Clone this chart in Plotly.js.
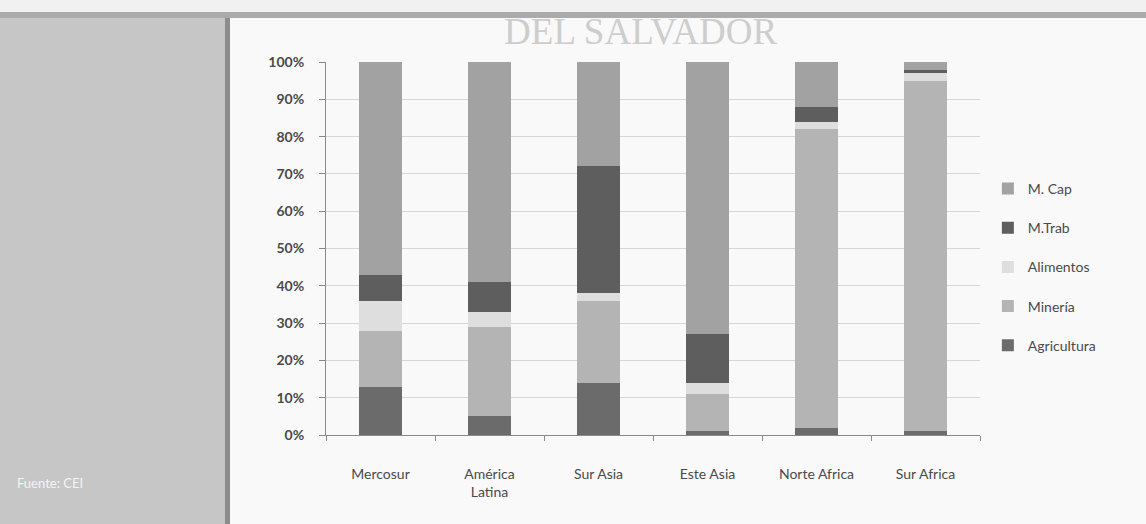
<!DOCTYPE html>
<html>
<head>
<meta charset="utf-8">
<script src="https://cdn.plot.ly/plotly-3.0.1.min.js"></script>
<style>html,body{margin:0;padding:0;background:#f9f9f9;}#chart{width:1146px;height:524px;}</style>
</head>
<body>
<div id="chart"></div>
<script>
// Data (shares, %)
const regions = ["Mercosur", "América<br>Latina", "Sur Asia", "Este Asia", "Norte Africa", "Sur Africa"];
const agricultura = [13, 5, 14, 1, 2, 1];
const mineria     = [15, 24, 22, 10, 80, 94];
const alimentos   = [8, 4, 2, 3, 2, 2];
const mTrab       = [7, 8, 34, 13, 4, 0.8];
const mCap        = [57, 59, 28, 73, 12, 2.2];
const yTicks = [0, 10, 20, 30, 40, 50, 60, 70, 80, 90, 100];
const yTickText = yTicks.map(v => v + "%");

const series = [
  {name: "Agricultura", y: agricultura, color: "#6b6b6b"},
  {name: "Minería",     y: mineria,     color: "#b4b4b4"},
  {name: "Alimentos",   y: alimentos,   color: "#dedede"},
  {name: "M.Trab",      y: mTrab,       color: "#5e5e5e"},
  {name: "M. Cap",      y: mCap,        color: "#a2a2a2"}
];

const traces = series.map((s, i) => ({
  type: "bar",
  x: regions,
  y: s.y,
  name: s.name,
  legendgroup: "g" + i,
  legendrank: 1000 - i * 100,
  marker: {color: s.color, line: {width: 0}},
  hoverinfo: "x+y+name"
}));

const font = "Lato, 'Open Sans', sans-serif";

const layout = {
  width: 1146, height: 524,
  margin: {l: 326, r: 166, t: 62, b: 89},
  paper_bgcolor: "#f9f9f9",
  plot_bgcolor: "#f9f9f9",
  barmode: "stack",
  bargap: 0.6,
  showlegend: true,
  font: {family: font, size: 14, color: "#4a4a4a"},
  title: {
    text: "DEL SALVADOR",
    xref: "container", yref: "container",
    x: 0.559, y: 0.94, xanchor: "center", yanchor: "middle",
    font: {family: "'Liberation Serif', 'DejaVu Serif', serif", size: 37, color: "#cdcdcd"}
  },
  xaxis: {
    type: "category",
    showgrid: false,
    showline: true, linecolor: "#8a8a8a", linewidth: 1,
    ticks: "outside", tickson: "boundaries", ticklen: 5, tickcolor: "#8a8a8a",
    tickfont: {family: font, size: 14, color: "#4a4a4a"},
    ticklabelstandoff: 26,
    fixedrange: true
  },
  yaxis: {
    range: [0, 100],
    tickvals: yTicks, ticktext: yTickText,
    showgrid: true, gridcolor: "#d6d6d6", gridwidth: 1,
    showline: true, linecolor: "#8a8a8a", linewidth: 1,
    ticks: "outside", ticklen: 6, tickcolor: "#8a8a8a",
    tickfont: {family: font, size: 14, color: "#4a4a4a", weight: "bold"},
    ticklabelstandoff: 12,
    zeroline: false,
    fixedrange: true
  },
  legend: {
    xref: "container", yref: "container",
    x: 0.862, y: 0.67, xanchor: "left", yanchor: "top",
    traceorder: "grouped",
    tracegroupgap: 18,
    bgcolor: "rgba(0,0,0,0)",
    font: {family: font, size: 14, color: "#4a4a4a"},
    itemwidth: 30
  },
  shapes: [
    {type: "rect", xref: "paper", yref: "paper", x0: -326/654, x1: -101/654, y0: -89/373, y1: (373+45)/373,
     fillcolor: "#c6c6c6", line: {width: 0}, layer: "below"},
    {type: "rect", xref: "paper", yref: "paper", x0: -101/654, x1: -96/654, y0: -89/373, y1: (373+45)/373,
     fillcolor: "#8c8c8c", line: {width: 0}, layer: "below"},
    {type: "rect", xref: "paper", yref: "paper", x0: -326/654, x1: (654+166)/654, y0: (373+44)/373, y1: (373+50)/373,
     fillcolor: "#ababab", line: {width: 0}, layer: "below"},
    {type: "rect", xref: "paper", yref: "paper", x0: -326/654, x1: (654+166)/654, y0: (373+50)/373, y1: (373+62)/373,
     fillcolor: "#f1f1f1", line: {width: 0}, layer: "below"}
  ],
  annotations: [
    {text: "Fuente: CEI", xref: "paper", yref: "paper", x: -311/654, y: -48/373,
     xanchor: "left", yanchor: "middle", showarrow: false,
     font: {family: font, size: 13, color: "#f4f4f4"}}
  ]
};

Plotly.newPlot("chart", traces, layout, {displayModeBar: false, staticPlot: true});
</script>
</body>
</html>
